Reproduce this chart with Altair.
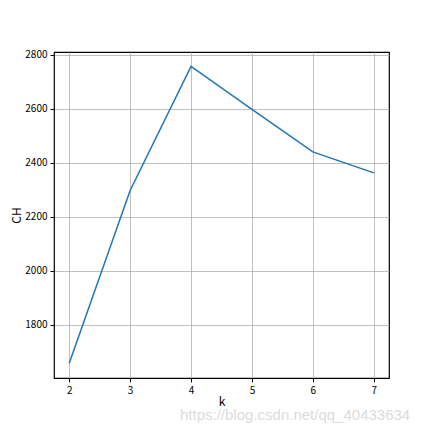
import altair as alt
import pandas as pd

k_values = [2, 3, 4, 5, 6, 7]
ch_values = [1657, 2297, 2757, 2597, 2440, 2362]
x_ticks = [2, 3, 4, 5, 6, 7]
y_ticks = [1800, 2000, 2200, 2400, 2600, 2800]
watermark = "https://blog.csdn.net/qq_40433634"

df = pd.DataFrame({"k": k_values, "CH": ch_values})

font = "Noto Sans CJK SC"

line = alt.Chart(df).mark_line(color="#1f77b4", strokeWidth=1.5, clip=True).encode(
    x=alt.X("k:Q", scale=alt.Scale(domain=[1.75, 7.25], nice=False, zero=False),
            axis=alt.Axis(values=x_ticks, title="k", format="d", grid=True,
                          gridColor="#b0b0b0", gridWidth=0.8,
                          domain=False, tickColor="black", tickSize=4,
                          labelColor="black", labelFontSize=10, labelFont=font,
                          labelPadding=3,
                          titleFont=font, titleFontSize=12, titleFontWeight="normal",
                          titleColor="black", titlePadding=1)),
    y=alt.Y("CH:Q", scale=alt.Scale(domain=[1602, 2810], nice=False, zero=False),
            axis=alt.Axis(values=y_ticks, title="CH", format="d", grid=True,
                          gridColor="#b0b0b0", gridWidth=0.8,
                          domain=False, tickColor="black", tickSize=4,
                          labelColor="black", labelFontSize=10, labelFont=font,
                          labelPadding=3,
                          titleFont=font, titleFontSize=12, titleFontWeight="normal",
                          titleColor="black", titlePadding=1)),
)

wm = alt.Chart(pd.DataFrame({"t": [watermark]})).mark_text(
    align="left", baseline="middle", fontSize=15, color="#dcdcdc", font="Liberation Sans"
).encode(x=alt.value(126), y=alt.value(363), text="t:N")

chart = alt.layer(line, wm).properties(
    width=335, height=326,
    padding={"left": 46, "top": 44, "right": 35, "bottom": 46},
    autosize=alt.AutoSizeParams(type="none"),
).configure_view(stroke="black", strokeWidth=1.2)

chart.save("out.html", embed_options={"renderer": "svg", "actions": False})
